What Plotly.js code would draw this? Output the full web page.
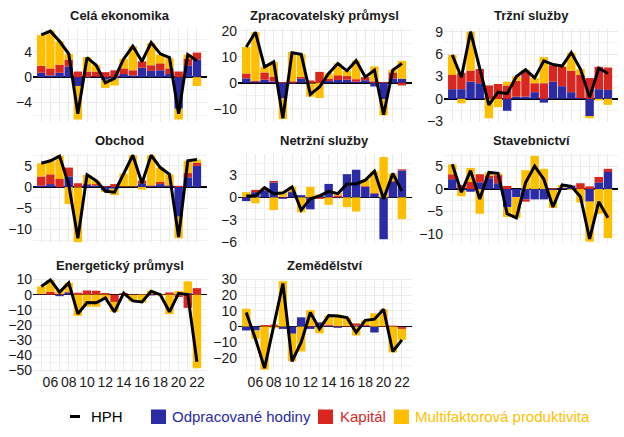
<!DOCTYPE html>
<html>
<head>
<meta charset="utf-8">
<script src="https://cdn.plot.ly/plotly-3.0.1.min.js"></script>
<style>html,body{margin:0;padding:0;background:#fff;}#chart{width:624px;height:437px;}</style>
</head>
<body>
<div id="chart"></div>
<script>
// ---------- data ----------
const years = [2005,2006,2007,2008,2009,2010,2011,2012,2013,2014,2015,2016,2017,2018,2019,2020,2021,2022];
const tickYears = [2006,2008,2010,2012,2014,2016,2018,2020,2022];
const tickLabels = ['06','08','10','12','14','16','18','20','22'];

const panelTitles = ['Celá ekonomika','Zpracovatelský průmysl','Tržní služby','Obchod','Netržní služby','Stavebnictví','Energetický průmysl','Zemědělství'];
const seriesNames = ['HPH','Odpracované hodiny','Kapitál','Multifaktorová produktivita'];

// Celá ekonomika
const celaHPH = [6.7,7.3,5.7,3.7,-5.8,3.1,1.9,-0.9,-0.2,2.9,4.9,2.5,5.5,3.7,3.1,-5.8,3.6,2.6];
const celaHod = [0.7,0.3,0.7,1.7,-1.4,-0.1,0.1,-0.4,-0.2,0.5,0.3,1.5,1.0,1.1,0.5,-5.0,1.8,2.8];
const celaKap = [1.1,1.1,1.3,1.1,0.9,0.9,0.8,0.8,1.1,0.9,0.8,1.0,0.9,1.1,0.9,0.9,1.1,1.1];
const celaMFP = [4.9,6.0,3.7,0.9,-5.3,2.3,1.0,-1.3,-1.1,1.5,3.8,0.0,3.5,1.4,1.6,-1.7,0.7,-1.4];
// Zpracovatelský průmysl
const zprHPH = [13.7,19.4,6.1,8.0,-13.6,11.5,10.9,-4.4,-1.6,3.6,7.4,4.6,8.5,2.2,4.9,-12.2,4.9,7.4];
const zprHod = [1.7,0.3,1.2,0.5,-6.0,-0.3,1.6,-0.3,0.0,0.7,1.1,1.2,0.4,1.0,-1.4,-6.2,1.6,1.6];
const zprKap = [1.9,0.5,2.8,1.9,0.3,0.6,0.7,0.9,4.2,0.8,1.8,1.4,1.0,1.2,0.6,0.3,2.4,-1.0];
const zprMFP = [10.1,18.6,2.2,5.6,-7.9,11.2,8.6,-5.0,-5.8,2.1,4.5,2.0,7.1,0.0,5.7,-6.3,0.9,6.8];
// Tržní služby
const trzHPH = [5.9,2.9,9.0,4.0,-0.8,0.9,0.7,3.0,3.9,2.8,5.1,4.6,4.4,6.2,4.0,0.2,4.1,3.4];
const trzHod = [1.3,1.3,2.3,2.1,0.0,0.0,-1.6,0.3,0.3,0.9,-0.5,2.3,1.7,0.9,0.1,-2.3,1.3,1.2];
const trzKap = [1.9,2.2,1.5,1.9,1.8,2.0,1.8,2.1,3.3,1.2,2.1,2.2,2.6,2.9,3.1,2.8,3.0,3.0];
const trzMFP = [2.7,-0.6,5.2,0.0,-2.6,-1.1,0.5,0.6,0.3,0.7,3.5,0.1,0.1,2.4,0.8,-0.3,-0.2,-0.8];
// Obchod
const obcHPH = [5.6,6.2,7.3,0.6,-12.1,2.9,1.5,-1.0,-1.2,3.2,7.5,0.9,7.5,4.6,3.0,-11.8,6.2,6.5];
const obcHod = [0.3,0.7,-0.1,2.5,-0.1,0.5,0.3,-0.8,-0.4,0.1,0.1,0.9,0.2,0.7,0.2,-7.0,2.3,5.0];
const obcKap = [2.2,2.3,1.9,2.1,0.9,0.2,0.4,0.2,0.7,0.1,0.1,0.6,0.2,0.5,0.2,0.3,1.0,0.7];
const obcMFP = [3.1,3.2,5.5,-4.0,-12.9,2.2,0.8,-0.4,-1.5,3.0,7.3,-0.6,7.1,3.4,2.6,-5.1,2.9,0.8];
// Netržní služby
const ntrHPH = [0.2,0.2,1.3,0.5,0.6,1.4,-1.7,-0.2,0.2,0.8,0.5,1.8,1.8,2.3,3.5,-0.2,3.2,0.85];
const ntrHod = [-0.5,0.7,0.9,2.0,-0.2,0.7,0.3,-1.6,0.2,1.8,-0.1,3.1,3.7,1.4,0.5,-5.6,2.1,3.6];
const ntrKap = [0.1,0.3,0.1,0.2,0.1,0.1,0.0,0.0,-0.2,0.0,0.25,0.0,0.0,0.1,0.1,0.0,0.1,0.15];
const ntrMFP = [0.6,-0.8,0.3,-1.7,0.7,0.6,-2.0,1.4,0.2,-1.0,0.35,-1.3,-1.9,0.9,2.9,5.4,1.0,-2.9];
// Stavebnictví
const stvHPH = [5.5,-0.7,4.1,-2.2,3.7,3.5,-5.5,-6.4,1.4,5.1,2.2,-4.0,0.9,0.6,-1.7,-11.1,-2.8,-6.4];
const stvHod = [2.2,-0.3,-0.6,1.5,2.4,1.3,-4.0,-1.8,-2.3,-2.3,-2.3,-0.2,0.2,0.7,0.0,-2.8,1.5,3.8];
const stvKap = [1.1,0.9,1.6,1.8,0.6,1.8,0.7,0.0,-0.5,0.0,0.0,0.2,0.1,0.1,1.3,0.6,1.2,0.7];
const stvMFP = [2.2,-1.3,3.1,-5.5,0.7,0.4,-2.2,-4.6,4.2,7.4,4.5,-4.0,0.6,-0.2,-3.0,-8.9,-5.5,-10.9];
// Energetický průmysl
const eneHPH = [5.4,9.7,1.7,7.8,-12.7,-5.2,-5.4,-2.2,-11.3,1.0,-4.1,-4.8,2.2,0.0,-11.3,0.9,0.1,-44.2];
const eneHod = [0.3,0.0,-1.0,1.5,0.0,0.0,0.0,0.0,0.0,0.4,-0.2,0.0,-0.5,0.3,0.0,-0.5,1.0,0.0];
const eneKap = [0.3,1.9,0.5,0.5,1.3,2.8,2.6,1.1,-4.8,0.6,0.3,0.4,0.5,0.2,1.5,-1.0,-8.7,4.3];
const eneMFP = [4.8,7.8,2.2,5.8,-14.0,-8.0,-8.0,-3.3,-6.5,0.0,-4.2,-5.2,2.2,-0.5,-12.8,2.4,7.8,-48.5];
// Zemědělství
const zemHPH = [8.9,-7.8,-26.5,0.2,27.5,-22.2,-10.0,9.0,-1.5,7.0,6.8,5.7,-3.7,4.0,4.7,11.0,-15.9,-8.5];
const zemHod = [-2.5,-2.5,0.0,0.0,-1.5,-4.6,5.9,-1.5,2.5,0.5,-0.8,0.0,0.5,0.5,-3.8,0.0,0.0,-0.3];
const zemKap = [0.0,0.0,1.0,1.2,0.0,0.0,0.0,0.5,0.3,0.8,0.3,0.5,1.5,0.5,0.0,0.3,0.6,-1.2];
const zemMFP = [11.4,-5.3,-27.5,-1.0,29.0,-17.6,-15.9,10.0,-4.3,5.7,7.3,5.2,-5.7,3.0,8.5,10.7,-16.5,-7.0];

// ---------- layout helpers ----------
const panels = [
  {hph:celaHPH, hod:celaHod, kap:celaKap, mfp:celaMFP, range:[-7.1,7.8], dtick:4},
  {hph:zprHPH, hod:zprHod, kap:zprKap, mfp:zprMFP, range:[-15,21], dtick:10},
  {hph:trzHPH, hod:trzHod, kap:trzKap, mfp:trzMFP, range:[-3.1,9.5], dtick:3},
  {hph:obcHPH, hod:obcHod, kap:obcKap, mfp:obcMFP, range:[-13.2,7.8], dtick:5},
  {hph:ntrHPH, hod:ntrHod, kap:ntrKap, mfp:ntrMFP, range:[-6.1,5.8], dtick:3},
  {hph:stvHPH, hod:stvHod, kap:stvKap, mfp:stvMFP, range:[-12,7.8], dtick:5},
  {hph:eneHPH, hod:eneHod, kap:eneKap, mfp:eneMFP, range:[-51,11], dtick:10},
  {hph:zemHPH, hod:zemHod, kap:zemKap, mfp:zemMFP, range:[-29,31], dtick:10}
];

const W = 624, H = 437;
const colPx = [[33,207],[238,412],[444,618]];
const rowPx = [[28,122],[154,243],[278,372]];
const titleY = [16,140,265];
const FONT = 'Liberation Sans, Arial, Helvetica, sans-serif';
const BLUE = '#2b2ba6', RED = '#d9271f', YELLOW = '#ffbf00';
const GRID = '#ebebeb';
const seriesColors = ['#000000', BLUE, RED, YELLOW];

const data = [];
const layout = {
  width: W, height: H,
  margin: {l:0, r:0, t:0, b:0},
  paper_bgcolor: '#ffffff', plot_bgcolor: '#ffffff',
  barmode: 'relative', bargap: 0.08,
  font: {family: FONT, size: 14, color: '#1a1a1a'},
  showlegend: false,
  annotations: [],
  shapes: []
};

panels.forEach((p, i) => {
  const s = i === 0 ? '' : String(i+1);
  const col = i % 3, row = Math.floor(i / 3);
  const xd = [colPx[col][0]/W, colPx[col][1]/W];
  const yd = [1 - rowPx[row][1]/H, 1 - rowPx[row][0]/H];
  data.push({type:'scatter', mode:'lines', x:years, y:p.hph, xaxis:'x'+s, yaxis:'y'+s,
    line:{color:'#000', width:3}, name:seriesNames[0], hoverinfo:'skip'});
  [p.hod, p.kap, p.mfp].forEach((vals, k) => {
    data.push({type:'bar', x:years, y:vals, xaxis:'x'+s, yaxis:'y'+s,
      marker:{color:seriesColors[k+1], line:{width:0}},
      name:seriesNames[k+1], hoverinfo:'skip'});
  });
  layout['xaxis'+s] = {
    domain: xd, anchor: 'y'+s, range: [2004.1, 2023.1],
    tickmode: 'array', tickvals: tickYears, ticktext: tickLabels,
    showticklabels: row === 2, ticks: '', showgrid: true, gridcolor: GRID, gridwidth: 1,
    minor: {tickmode:'linear', tick0: 2005, dtick: 1, showgrid: true, gridcolor: GRID, gridwidth: 1},
    zeroline: false, showline: false, fixedrange: true,
    tickfont: {size: 14, color: '#1a1a1a', family: FONT}
  };
  layout['yaxis'+s] = {
    domain: yd, anchor: 'x'+s, range: p.range,
    tickmode: 'linear', tick0: 0, dtick: p.dtick,
    showgrid: true, gridcolor: GRID, gridwidth: 1,
    minor: {tickmode:'linear', tick0: 0, dtick: p.dtick/2, showgrid: true, gridcolor: '#f2f2f2'},
    zeroline: true, zerolinecolor: '#000000', zerolinewidth: 1.5,
    showline: false, ticks: '', fixedrange: true,
    tickfont: {size: 14, color: '#1a1a1a', family: FONT}
  };
  layout.annotations.push({
    text: '<b>' + panelTitles[i] + '</b>', xref: 'paper', yref: 'paper',
    x: (xd[0]+xd[1])/2, y: 1 - titleY[row]/H, xanchor: 'center', yanchor: 'middle',
    showarrow: false, font: {size: 13, color: '#1a1a1a', family: FONT}
  });
});

// ---------- legend (drawn in paper space) ----------
const legY = 416.5;
const legSymbolX = [[70,80],[151,166],[318,333],[394,409]];
const legTextX = [91,172,340,415];
seriesNames.forEach((nm, k) => {
  const sx = legSymbolX[k];
  if (k === 0) {
    layout.shapes.push({type:'line', xref:'paper', yref:'paper',
      x0: sx[0]/W, x1: sx[1]/W, y0: 1 - legY/H, y1: 1 - legY/H,
      line:{color:'#000', width:3}});
  } else {
    layout.shapes.push({type:'rect', xref:'paper', yref:'paper',
      x0: sx[0]/W, x1: sx[1]/W, y0: 1 - (legY+7.5)/H, y1: 1 - (legY-7)/H,
      fillcolor: seriesColors[k], line:{width:0}});
  }
  layout.annotations.push({
    text: nm, xref:'paper', yref:'paper', x: (legTextX[k]-2)/W, y: 1 - legY/H,
    xanchor:'left', yanchor:'middle', showarrow:false,
    font:{size:15, color: seriesColors[k], family: FONT}
  });
});

Plotly.newPlot('chart', data, layout, {staticPlot: true, displayModeBar: false});
</script>
</body>
</html>
